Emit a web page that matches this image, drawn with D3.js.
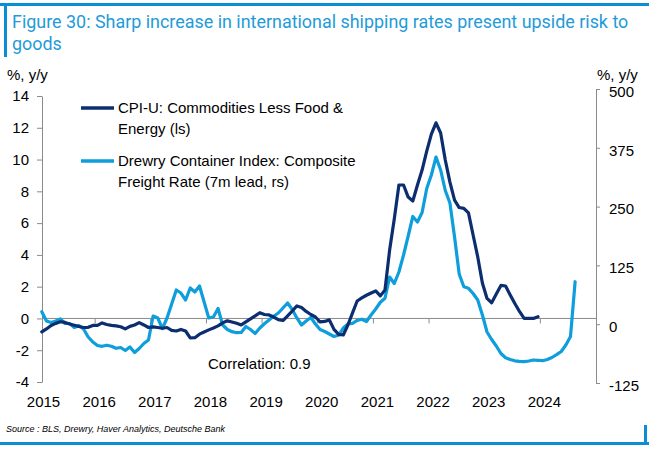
<!DOCTYPE html>
<html><head><meta charset="utf-8">
<script src="https://cdn.jsdelivr.net/npm/d3@7"></script>
<style>body{margin:0;background:#fff}svg{display:block}</style>
</head><body>
<svg id="c" width="649" height="450"></svg>
<script>
const titleLines = ["Figure 30: Sharp increase in international shipping rates present upside risk to", "goods"];
const years = [2015,2016,2017,2018,2019,2020,2021,2022,2023,2024];
const leftTicks = [-4,-2,0,2,4,6,8,10,12,14];
const rightTicks = [-125,0,125,250,375,500];
const seriesNames = ["CPI-U: Commodities Less Food &|Energy (ls)", "Drewry Container Index: Composite|Freight Rate (7m lead, rs)"];
// monthly, starting Jan 2015
const cpiValues = [
-0.85,-0.66,-0.44,-0.31,-0.21,-0.25,-0.35,-0.43,-0.51,-0.57,-0.56,-0.44,
-0.44,-0.28,-0.38,-0.44,-0.47,-0.52,-0.66,-0.50,-0.41,-0.26,-0.41,-0.57,
-0.53,-0.57,-0.62,-0.57,-0.75,-0.79,-0.69,-0.79,-1.23,-1.21,-0.99,-0.85,
-0.72,-0.60,-0.47,-0.28,-0.15,-0.22,-0.30,-0.41,-0.22,-0.03,0.16,0.36,
0.25,0.22,0.09,-0.08,-0.13,0.16,0.47,0.79,0.69,0.44,0.25,0.09,
-0.22,-0.19,-0.09,-0.69,-1.00,-1.04,-0.41,0.35,1.10,1.29,1.46,1.60,
1.73,1.42,1.79,4.31,6.26,8.40,8.40,7.64,7.39,8.40,9.34,10.53,
11.60,12.31,11.67,9.97,8.58,7.45,6.98,6.93,6.64,5.25,3.87,2.23,
1.26,0.99,1.54,2.08,2.04,1.48,0.94,0.44,0.01,0.01,0.00,0.11
];
// monthly, starting Jan 2015 (7-month lead)
const drewryValues = [
26.6,6.8,3.6,6.8,11.1,1.5,1.5,-7.0,-2.8,-10.2,-27.2,-37.8,
-45.3,-47.0,-44.6,-47.0,-51.2,-49.5,-55.9,-48.5,-60.2,-51.7,-41.0,-33.6,
17.4,13.2,-9.1,13.2,42.9,72.7,66.3,51.4,77.0,68.5,81.2,47.2,
13.2,15.3,33.4,-1.7,-11.3,-15.9,-18.1,-17.6,-4.9,-11.3,-19.8,-8.1,
0.9,8.9,16.8,23.8,34.4,45.1,31.3,13.2,-1.7,6.8,14.2,0.4,
-11.3,-15.5,-20.8,-26.1,-23.4,-8.1,0.4,1.9,7.9,10.4,5.7,19.6,
32.3,46.6,55.1,100.3,86.5,111.0,147.1,187.5,229.0,217.3,237.5,288.5,
317.2,355.4,327.8,284.2,257.7,185.4,106.7,79.5,76.3,65.3,51.4,19.6,
-16.6,-32.5,-46.3,-62.3,-71.4,-75.0,-77.8,-78.9,-79.7,-78.2,-76.1,-76.7,
-77.6,-75.0,-70.8,-64.8,-58.0,-44.2,-26.1,90.3
];
const correlationText = "Correlation: 0.9";
const sourceText = "Source : BLS, Drewry, Haver Analytics, Deutsche Bank";

const frameBlue = "#0a8fd6", titleBlue = "#1f9bd8";
const darkBlue = "#0c2d6f", lightBlue = "#0e9edc";
const axisGrey = "#8a8a8a";
const font = "'Liberation Sans', Arial, sans-serif";

const svg = d3.select("#c");
const plotL = 42, plotR = 596;

const x = d3.scaleLinear().domain([2015, 2025]).range([39.5, 596]);
const yL = d3.scaleLinear().domain([-4, 14]).range([382, 96]);
const yR = d3.scaleLinear().domain([-125, 500]).range([383, 89]);
const monthX = i => x(2015 + (i + 0.5) / 12);
const fmt = d => String(d);

// frame
svg.append("rect").attr("x",0).attr("y",3).attr("width",649).attr("height",3).attr("fill",frameBlue);
svg.append("rect").attr("x",4).attr("y",3).attr("width",3).attr("height",54).attr("fill",frameBlue);
svg.append("rect").attr("x",0).attr("y",442).attr("width",649).attr("height",3).attr("fill",frameBlue);
svg.append("rect").attr("x",644).attr("y",425).attr("width",3).attr("height",20).attr("fill",frameBlue);

// title
const t = svg.append("text").attr("font-family","Roboto, 'Liberation Sans', sans-serif").attr("fill",titleBlue).attr("font-size",16);
titleLines.forEach((l,i)=>t.append("tspan").attr("x",12).attr("y",28+i*22).text(l));
const w = t.node().firstChild.getComputedTextLength();
t.attr("font-size", 16 * 617 / w);

// axes
const gL = svg.append("g").attr("transform",`translate(${plotL},0)`)
  .call(d3.axisLeft(yL).tickValues(leftTicks).tickSize(5).tickSizeOuter(0).tickPadding(8).tickFormat(fmt));
const gR = svg.append("g").attr("transform",`translate(${plotR},0)`)
  .call(d3.axisRight(yR).tickValues(rightTicks).tickSize(4).tickSizeOuter(0).tickPadding(9).tickFormat(fmt));
[gL,gR].forEach(g=>{
  g.selectAll("path,line").attr("stroke",axisGrey);
  g.selectAll("text").attr("font-family",font).attr("font-size",15).attr("fill","#000");
});
gR.selectAll("text").attr("transform","translate(0,2.5)");

// zero line + year ticks
const y0 = yL(0);
svg.append("line").attr("x1",plotL).attr("x2",plotR).attr("y1",y0).attr("y2",y0).attr("stroke",axisGrey);
svg.append("g").selectAll("line").data(years.slice(1)).join("line")
  .attr("x1",d=>x(d)).attr("x2",d=>x(d)).attr("y1",y0).attr("y2",y0+5).attr("stroke",axisGrey);
svg.append("g").selectAll("text").data(years).join("text")
  .attr("x",d=>x(d)+4).attr("y",407).attr("text-anchor","middle")
  .attr("font-family",font).attr("font-size",15).text(d=>d);

// unit labels
svg.append("text").attr("x",7).attr("y",80).attr("font-family",font).attr("font-size",15).text("%, y/y");
svg.append("text").attr("x",597).attr("y",80).attr("font-family",font).attr("font-size",15).text("%, y/y");

// lines
const lineL = d3.line().x((d,i)=>monthX(i)).y(d=>yL(d));
const lineR = d3.line().x((d,i)=>monthX(i)).y(d=>yR(d));
svg.append("path").datum(drewryValues).attr("d",lineR).attr("fill","none").attr("stroke",lightBlue)
  .attr("stroke-width",3.2).attr("stroke-linejoin","round").attr("stroke-linecap","round");
svg.append("path").datum(cpiValues).attr("d",lineL).attr("fill","none").attr("stroke",darkBlue)
  .attr("stroke-width",3.2).attr("stroke-linejoin","round").attr("stroke-linecap","round");

// legend
const leg = [{c:darkBlue, y:108}, {c:lightBlue, y:161}];
leg.forEach((l,i)=>{
  svg.append("line").attr("x1",81).attr("x2",114).attr("y1",l.y).attr("y2",l.y).attr("stroke",l.c).attr("stroke-width",3.5);
  const parts = seriesNames[i].split("|");
  parts.forEach((p,j)=>svg.append("text").attr("x",118).attr("y",l.y+5+j*20.5)
    .attr("font-family",font).attr("font-size",15).text(p));
});

svg.append("text").attr("x",208).attr("y",369).attr("font-family",font).attr("font-size",15).text(correlationText);
svg.append("text").attr("x",6).attr("y",432).attr("font-family",font).attr("font-style","italic").attr("font-size",9).text(sourceText);
</script>
</body></html>
